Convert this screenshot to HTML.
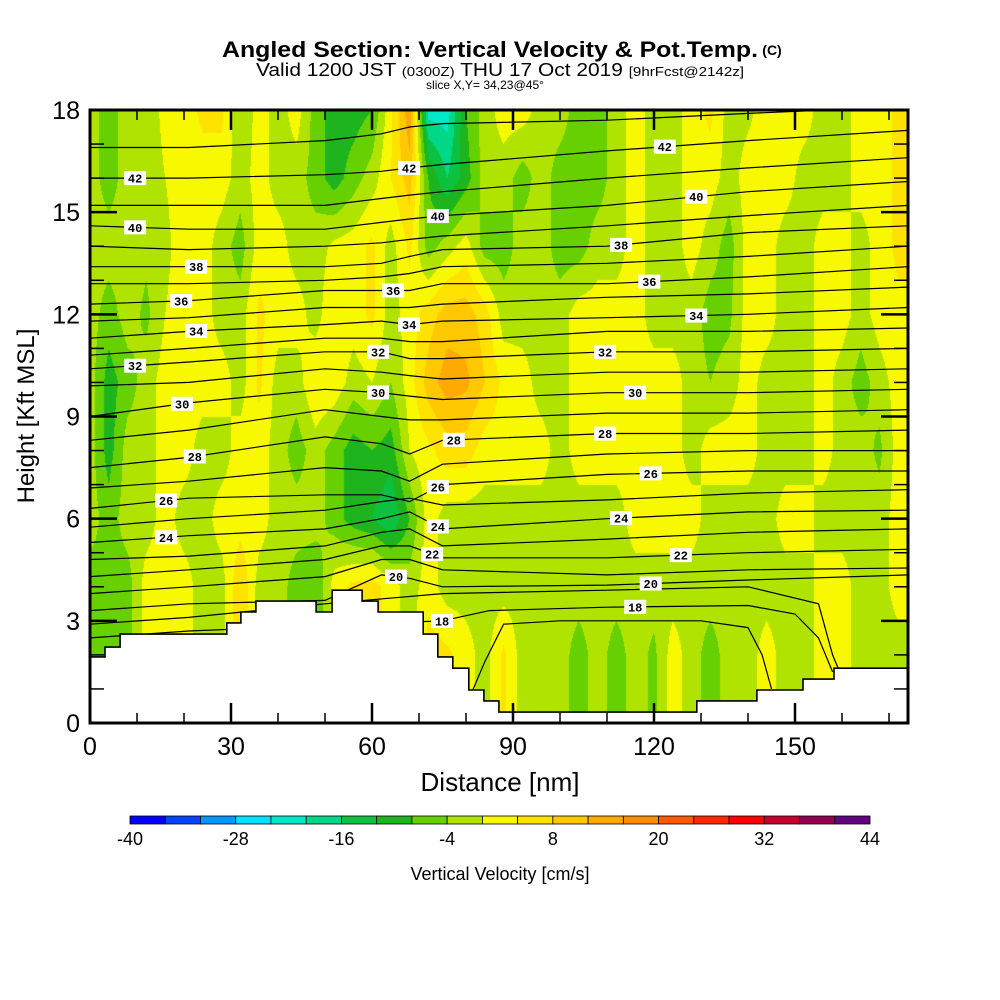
<!DOCTYPE html>
<html><head><meta charset="utf-8"><style>
html,body{margin:0;padding:0;background:#fff;width:1000px;height:1000px;overflow:hidden}
#wrap{position:relative;width:1000px;height:1000px}
#field{position:absolute;left:90px;top:110px}
#ov{position:absolute;left:0;top:0}
text{font-family:"Liberation Sans",sans-serif}
</style></head><body>
<div id="wrap">
<canvas id="field" width="818" height="613"></canvas>
<svg id="ov" width="1000" height="1000" xmlns="http://www.w3.org/2000/svg">
<defs><clipPath id="pc"><rect x="90" y="110" width="818" height="613"/></clipPath></defs>
<g id="contours" clip-path="url(#pc)"></g>
<g id="terrain"></g>
<g id="clabels"></g>
<g id="axes"></g>
<text x="490" y="57" text-anchor="middle" font-weight="bold" font-size="22" textLength="536" lengthAdjust="spacingAndGlyphs">Angled Section: Vertical Velocity &amp; Pot.Temp.</text>
<text x="772" y="55" text-anchor="middle" font-weight="bold" font-size="14">(C)</text>
<text x="500" y="76" text-anchor="middle" font-size="18" textLength="488" lengthAdjust="spacingAndGlyphs">Valid 1200 JST <tspan font-size="13">(0300Z)</tspan> THU 17 Oct 2019 <tspan font-size="13">[9hrFcst@2142z]</tspan></text>
<text x="485" y="89" text-anchor="middle" font-size="12" textLength="118" lengthAdjust="spacingAndGlyphs">slice X,Y= 34,23@45°</text>
<text x="500" y="791" text-anchor="middle" font-size="26">Distance [nm]</text>
<text transform="translate(34,416) rotate(-90)" text-anchor="middle" font-size="24">Height [Kft MSL]</text>
<g id="cbar"></g>
<text x="500" y="880" text-anchor="middle" font-size="18">Vertical Velocity [cm/s]</text>
</svg>
</div>
<script>
// ---------- data ----------
const gridNm = [0,4,8,12,16,20,24,28,32,36,40,44,48,52,56,60,64,68,72,76,80,84,88,92,96,100,104,108,112,116,120,124,128,132,136,140,144,148,152,156,160,164,168,172,176];
const gridKft = [18,16,14,12,10,8,6,4,2,0];
const vv18 = [-2,-6,-2,-2,1,2,5,5,-4,2,-2,2,-6,-10,-10,-8,3,15,-22,-22,-8,-2,2,2,-2,-2,-6,-6,-2,2,-2,-2,2,5,-2,-1,2,2,2,-2,-2,2,2,5,5];
const vv16 = [-2,-6,-2,-2,0,2,2,2,-2,2,-2,-2,-6,-10,-6,-2,4,10,-8,-16,-10,-2,-2,-6,-2,-6,-6,-6,-2,2,-2,-2,2,2,-2,2,2,2,-2,-2,-2,2,2,5,5];
const vv14 = [-2,-2,-2,-3,-1,2,2,-2,-6,2,2,-2,-2,1,2,5,-2,5,-6,-2,2,-6,-6,-2,-2,-6,-6,-2,-2,2,-2,-2,2,-2,-6,2,2,-2,-2,2,2,-2,2,5,5];
const vv12 = [-2,-6,-2,-5,0,2,2,-2,-2,5,2,2,-2,4,2,5,-2,2,6,10,10,6,-2,-2,-2,-2,2,2,2,2,-2,-2,-2,-6,-5,2,2,-2,-2,2,2,-2,2,3,3];
const vv10 = [-2,-10,-6,-2,2,2,2,2,-2,5,-2,-2,4,3,-2,0,-4,2,10,14,13,8,3,2,-2,-2,2,2,2,2,2,2,-2,-4,-2,2,-2,-2,-2,2,-2,-6,-2,2,2];
const vv8  = [-2,-10,-2,-2,2,2,-2,-2,2,2,-2,-6,-2,-6,-10,-8,-10,0,3,6,6,2,2,2,2,-2,2,2,2,2,2,2,-2,2,2,2,-2,-2,-2,2,-2,-2,-5,2,2];
const vv6  = [-2,-6,-2,-2,2,-2,-2,2,2,2,-2,-2,-2,-6,-10,-12,-16,-8,2,-2,-2,-2,-2,-2,-2,-2,-2,-2,-2,2,2,2,2,-2,-2,-2,-2,2,2,-2,-2,-2,-2,2,2];
const vv4  = [-6,-6,-6,2,2,2,-2,-2,8,-2,-2,-6,-8,2,5,6,2,-2,2,-2,-2,-2,-2,-2,-2,-2,-2,-2,-2,-2,-2,-2,-2,-2,-2,-2,-2,-2,-2,2,2,-2,-2,2,2];
const vv2  = [-6,-6,-6,2,2,2,-2,-2,8,-2,-2,-6,-8,2,5,6,2,-2,6,5,2,-2,5,-2,-2,-2,-6,-2,-6,-2,-5,2,-2,-6,-2,-2,2,-2,-2,2,2,-2,-2,-2,-2];
const vv0  = [-6,-6,-6,2,2,2,-2,-2,8,-2,-2,-6,-8,2,5,6,2,-2,6,5,2,-2,5,-2,-2,-2,-6,-2,-6,-2,-5,2,-2,-6,-2,-2,2,-2,-2,2,2,-2,-2,-2,-2];

const cbarTicks = [-40,-28,-16,-4,8,20,32,44];
const cbarColors = ["#0000ff","#0044ff","#0099ff","#00e0ff","#00e8c8","#00d888","#0cc040","#1eb41e","#66d000","#b0e400","#f8f800","#ffe200","#ffc800","#ffaa00","#ff8c00","#ff5a00","#ff2800","#ff0000","#c4002e","#940050","#640084"];

const thetaNodeNm = [0,21,50,62,68,75,110,140,174];
const th43=[16.9,16.9,17.1,17.3,17.5,17.6,17.7,17.9,18.1];
const th42=[16.0,16.0,16.1,16.2,16.3,16.4,16.8,17.1,17.4];
const th41=[15.2,15.2,15.2,15.4,15.5,15.6,16.0,16.3,16.6];
const th40=[14.6,14.5,14.5,14.7,14.8,14.9,15.2,15.6,15.9];
const th39=[14.0,13.9,14.0,14.1,14.2,14.3,14.6,14.9,15.2];
const th38=[13.4,13.4,13.4,13.5,13.7,13.9,14.0,14.4,14.6];
const th37=[12.9,12.9,13.0,13.1,13.2,13.4,13.5,13.7,14.0];
const th36=[12.3,12.4,12.7,12.7,12.7,12.9,12.9,13.1,13.4];
const th35=[11.8,11.9,12.2,12.2,12.2,12.3,12.5,12.6,12.8];
const th34=[11.3,11.5,11.7,11.8,11.7,11.8,11.9,12.0,12.2];
const th33=[10.8,11.0,11.3,11.3,11.2,11.2,11.5,11.5,11.6];
const th32=[10.4,10.6,10.9,10.9,10.7,10.7,10.9,10.9,11.0];
const th31=[9.9,10.0,10.4,10.3,10.2,10.1,10.3,10.3,10.4];
const th30=[9.0,9.4,9.8,9.7,9.6,9.5,9.7,9.7,9.8];
const th29=[8.3,8.6,9.2,9.0,8.9,8.9,9.1,9.1,9.2];
const th28=[7.5,7.8,8.4,8.2,7.9,8.3,8.5,8.5,8.6];
const th27=[6.9,7.1,7.5,7.4,7.1,7.6,7.9,8.0,8.0];
const th26=[6.3,6.6,6.7,6.7,6.5,7.0,7.3,7.4,7.4];
const th25=[5.75,6.0,6.25,6.5,6.6,6.4,6.55,6.75,6.85];
const th24=[5.3,5.5,5.7,6.0,6.2,5.7,6.0,6.2,6.25];
const th23=[4.8,4.9,5.2,5.6,5.7,5.2,5.4,5.6,5.7];
const th22=[4.3,4.5,4.8,5.2,5.2,4.85,4.85,5.0,5.1];
const th21=[3.8,4.0,4.3,4.8,4.8,4.5,4.35,4.5,4.55];
const th20=[3.3,3.5,3.6,4.35,4.25,4.0,4.05,4.2,4.35];
const th19Nm=[0,21,50,75,110,140,155,158,161];
const th19=[2.9,3.1,3.5,3.8,3.9,4.0,3.5,2.0,1.0];
const th18Nm=[0,21,75,85,110,140,150,155,158];
const th18=[2.5,2.7,3.0,3.3,3.4,3.45,3.2,2.5,1.5];
const th17Nm=[80,84,88,100,130,140,143,145];
const th17=[0.5,1.8,2.9,3.0,3.0,2.8,2.0,1.0];

const labelLevels = [42,42,42,40,40,40,38,38,36,36,36,34,34,34,32,32,32,30,30,30,28,28,28,26,26,26,24,24,24,22,22,20,20,18,18];
const labelNm     = [9.6,67.9,122.3,9.6,74,129,22.6,113,19.4,64.5,119,22.6,67.9,129,9.6,61.3,109.6,19.6,61.3,116,22.3,77.4,109.6,16.2,74,119.3,16.2,74,113,72.8,125.7,65.1,119.3,74.9,116];

const terrainStartNm = [0,3.2,6.4,29.1,32.1,35.3,48.1,51.5,57.9,61.3,70.9,74.0,77.2,80.6,83.8,87.0,129.1,141.9,151.7,158.3];
const terrainKft     = [1.94,2.23,2.61,2.94,3.26,3.58,3.26,3.90,3.58,3.26,2.61,1.94,1.61,0.97,0.65,0.32,0.65,0.97,1.29,1.61];

const xTickLabels = [0,30,60,90,120,150];
const yTickLabels = [0,3,6,9,12,15,18];

// ---------- scales ----------
const X0=90, X1=908, Y0=723, Y1=110, NM_MAX=(X1-X0)/4.7, KFT_MAX=18;
const xs = nm => X0 + nm*(X1-X0)/NM_MAX;
const ys = k => Y0 - k*(Y0-Y1)/KFT_MAX;
const NS="http://www.w3.org/2000/svg";
function mk(tag, attrs, parent){const e=document.createElementNS(NS,tag);for(const k in attrs)e.setAttribute(k,attrs[k]);parent.appendChild(e);return e;}
function binOf(v){return Math.max(0,Math.min(20,Math.floor((v+40)/4)));}
function interp(xsArr, ysArr, x){
  if(x<=xsArr[0])return ysArr[0];
  for(let i=1;i<xsArr.length;i++){if(x<=xsArr[i]){const t=(x-xsArr[i-1])/(xsArr[i]-xsArr[i-1]);return ysArr[i-1]+t*(ysArr[i]-ysArr[i-1]);}}
  return ysArr[ysArr.length-1];
}

// ---------- field ----------
(function(){
  const rows=[vv18,vv16,vv14,vv12,vv10,vv8,vv6,vv4,vv2,vv0];
  const cv=document.getElementById('field'),ctx=cv.getContext('2d');
  const W=cv.width,H=cv.height,img=ctx.createImageData(W,H);
  const rgb=cbarColors.map(c=>[parseInt(c.substr(1,2),16),parseInt(c.substr(3,2),16),parseInt(c.substr(5,2),16)]);
  const dNm=gridNm[1]-gridNm[0], dK=gridKft[0]-gridKft[1];
  for(let j=0;j<H;j++){
    const h=KFT_MAX-(j+0.5)/H*KFT_MAX;
    let gy=(gridKft[0]-h)/dK; let j0=Math.min(rows.length-2,Math.max(0,Math.floor(gy))); let fy=gy-j0;
    for(let i=0;i<W;i++){
      const u=(i+0.5)/W*NM_MAX;
      let gx=u/dNm; let i0=Math.min(gridNm.length-2,Math.max(0,Math.floor(gx))); let fx=gx-i0;
      const v=(rows[j0][i0]*(1-fx)+rows[j0][i0+1]*fx)*(1-fy)+(rows[j0+1][i0]*(1-fx)+rows[j0+1][i0+1]*fx)*fy;
      const c=rgb[binOf(v)],p=(j*W+i)*4;
      img.data[p]=c[0];img.data[p+1]=c[1];img.data[p+2]=c[2];img.data[p+3]=255;
    }
  }
  ctx.putImageData(img,0,0);
})();

// ---------- contours ----------
const thetaUpper=[th20,th21,th22,th23,th24,th25,th26,th27,th28,th29,th30,th31,th32,th33,th34,th35,th36,th37,th38,th39,th40,th41,th42,th43];
const thetaLevels=[20,21,22,23,24,25,26,27,28,29,30,31,32,33,34,35,36,37,38,39,40,41,42,43];
const cg=document.getElementById('contours');
function drawContour(nodes, hs, lvl){
  const pts=nodes.map((n,i)=>xs(n).toFixed(1)+','+ys(hs[i]).toFixed(1)).join(' ');
  const pl=mk('polyline',{points:pts,fill:'none',stroke:'#000','stroke-width':'1.2'},cg);
  
  
}
thetaLevels.forEach((l,i)=>drawContour(thetaNodeNm,thetaUpper[i],l));
drawContour(th19Nm,th19,19);
drawContour(th18Nm,th18,18);
drawContour(th17Nm,th17,17);

// ---------- terrain ----------
(function(){
  const tg=document.getElementById('terrain');
  let d='M'+xs(0)+','+ys(0);
  terrainStartNm.forEach((s,i)=>{
    const e=i<terrainStartNm.length-1?terrainStartNm[i+1]:NM_MAX;
    d+=' L'+xs(s).toFixed(1)+','+ys(terrainKft[i]).toFixed(1)+' L'+xs(e).toFixed(1)+','+ys(terrainKft[i]).toFixed(1);
  });
  d+=' L'+xs(NM_MAX)+','+ys(0)+' Z';
  const p=mk('path',{d:d,fill:'#fff',stroke:'#000','stroke-width':'1.6'},tg);
  
  
})();

// ---------- contour labels ----------
(function(){
  const lg=document.getElementById('clabels');
  labelLevels.forEach((lvl,i)=>{
    const nm=labelNm[i];
    let h;
    if(lvl>=20){h=interp(thetaNodeNm,thetaUpper[thetaLevels.indexOf(lvl)],nm);}
    else{h=interp(th18Nm,th18,nm);}
    const cx=xs(nm),cy=ys(h);
    const g=mk('g',{},lg);
    
    
    mk('rect',{x:cx-11,y:cy-7,width:22,height:14,fill:'#fff'},g);
    const t=mk('text',{x:cx,y:cy+4.5,'text-anchor':'middle','font-size':'12','font-weight':'bold',style:'font-family:"Liberation Mono",monospace'},g);
    t.textContent=lvl;
  });
})();

// ---------- axes ----------
(function(){
  const ag=document.getElementById('axes');
  mk('rect',{x:X0,y:Y1,width:X1-X0,height:Y0-Y1,fill:'none',stroke:'#000','stroke-width':'3'},ag);
  for(let nm=0;nm<=NM_MAX;nm+=10){
    const major=nm%30===0, L=major?20:10, x=xs(nm);
    const t1=mk('line',{x1:x,y1:Y0,x2:x,y2:Y0-L,stroke:'#000','stroke-width':major?2.5:1.5},ag);
    
    
    mk('line',{x1:x,y1:Y1,x2:x,y2:Y1+L,stroke:'#000','stroke-width':major?2.5:1.5},ag);
  }
  xTickLabels.forEach(v=>{
    const t=mk('text',{x:xs(v),y:755,'text-anchor':'middle','font-size':'25'},ag);
    
    
    t.textContent=v;
  });
  for(let k=0;k<=KFT_MAX;k+=1){
    const major=k%3===0, L=major?27:14, y=ys(k);
    const t1=mk('line',{x1:X0,y1:y,x2:X0+L,y2:y,stroke:'#000','stroke-width':major?2.5:1.5},ag);
    
    
    mk('line',{x1:X1,y1:y,x2:X1-L,y2:y,stroke:'#000','stroke-width':major?2.5:1.5},ag);
  }
  yTickLabels.forEach(v=>{
    const t=mk('text',{x:80,y:ys(v)+9,'text-anchor':'end','font-size':'25'},ag);
    
    
    t.textContent=v;
  });
})();

// ---------- colorbar ----------
(function(){
  const g=document.getElementById('cbar');
  const cx0=130,cx1=870,cy=816,ch=8,n=cbarColors.length,w=(cx1-cx0)/n;
  cbarColors.forEach((c,i)=>{
    const r=mk('rect',{x:cx0+i*w,y:cy,width:w,height:ch,fill:c,stroke:'#000','stroke-width':'0.8'},g);
    
    
  });
  cbarTicks.forEach(v=>{
    const x=cx0+(v+40)/4*w;
    const t=mk('text',{x:x,y:845,'text-anchor':'middle','font-size':'18'},g);
    
    
    t.textContent=v;
  });
})();
</script>
</body></html>
